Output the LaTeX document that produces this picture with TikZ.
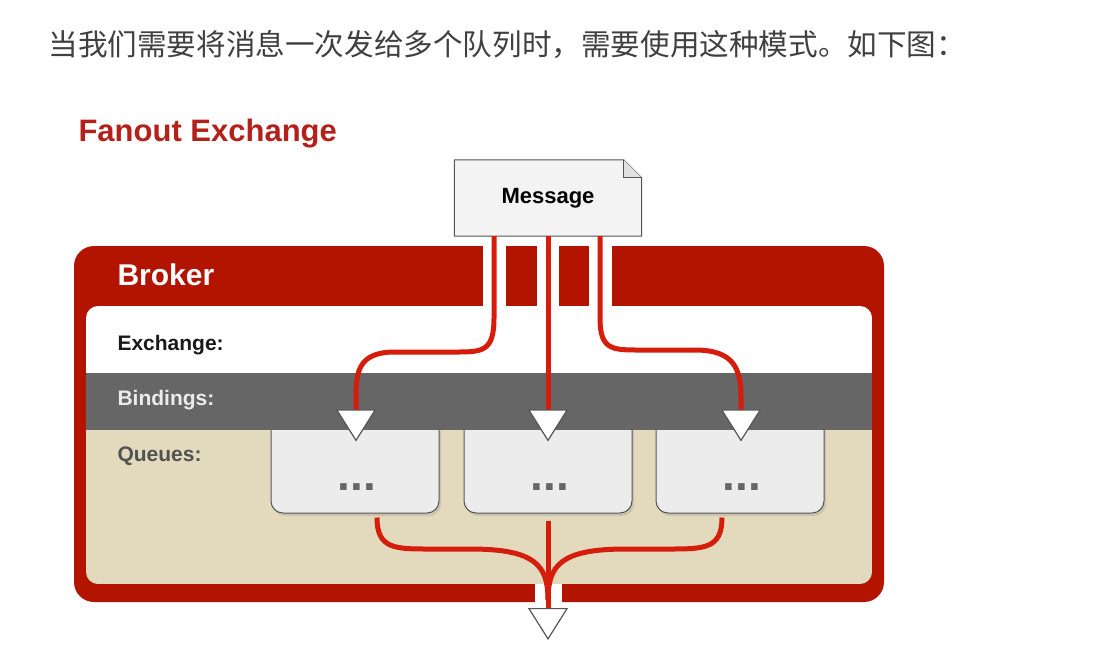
\documentclass[tikz,border=0pt]{standalone}
\usepackage{fontspec}
\setmainfont{Liberation Sans}
\newfontfamily\cjk{Noto Sans CJK SC}
\usetikzlibrary{arrows.meta,backgrounds,calc,shadows}

\definecolor{brokerred}{RGB}{178,20,0}
\definecolor{flowred}{RGB}{214,28,10}
\definecolor{titlered}{RGB}{180,32,26}
\definecolor{bandgray}{RGB}{102,102,102}
\definecolor{queuebeige}{RGB}{227,218,190}
\definecolor{boxgray}{RGB}{236,236,236}
\definecolor{msggray}{RGB}{243,243,243}
\definecolor{edgegray}{RGB}{85,85,85}

\tikzset{
  flow/.style={draw=flowred, line width=5pt},
  flowtip/.style={flow, -{Triangle[width=40pt,length=32pt,color=edgegray,fill=white,line width=1.2pt]}},
  rowlabel/.style={anchor=west, font=\bfseries\fontsize{21}{24}\selectfont},
  queuebox/.style={draw=edgegray, fill=boxgray, line width=1pt, rounded corners=12pt,
    minimum width=168pt, minimum height=95pt,
    drop shadow={shadow xshift=2pt, shadow yshift=-3pt, opacity=.25}},
  dots/.style={anchor=base, text=bandgray, font=\bfseries\fontsize{46}{48}\selectfont}
}

\begin{document}
\begin{tikzpicture}[x=1pt,y=-1pt]
\useasboundingbox (0,0) rectangle (1105,670);

\node[anchor=west, text=black!75] (intro) at (45,44) {\cjk\fontsize{29.6}{32}\selectfont 当我们需要将消息一次发给多个队列时，需要使用这种模式。如下图：};
\node[anchor=west, text=titlered, font=\bfseries\fontsize{31}{35}\selectfont] (title) at (75,134) {Fanout Exchange};

\node[minimum width=187pt, minimum height=76pt, font=\bfseries\fontsize{22}{25}\selectfont] (msg) at (548,198) {Message};
\begin{scope}[on background layer]
  \draw[edgegray, fill=msggray, line width=1pt] (msg.south west) -- (msg.north west) -- ([xshift=-18pt]msg.north east) -- ([yshift=-18pt]msg.north east) -- (msg.south east) -- cycle;
  \draw[edgegray, fill=black!12, line width=.8pt] ([xshift=-18pt]msg.north east) -- ([xshift=-18pt,yshift=-18pt]msg.north east) -- ([yshift=-18pt]msg.north east);
\end{scope}

\node[fill=brokerred, rounded corners=20pt, minimum width=810pt, minimum height=356pt] (broker) at (479,424) {};
\node[anchor=west, text=white, font=\bfseries\fontsize{30}{34}\selectfont] (brokerlabel) at (114,275) {Broker};
\fill[white] (483,246) rectangle (506,307);
\fill[white] (537,246) rectangle (559,307);
\fill[white] (589,246) rectangle (612,307);
\fill[white] (535,582) rectangle (562,603);

\begin{scope}
  \clip[rounded corners=12pt] (86,306) rectangle (872,584);
  \fill[white] (86,306) rectangle (872,373);
  \fill[queuebeige] (86,373) rectangle (872,584);
\end{scope}

\node[queuebox] (q1) at (355,465.5) {};
\node[queuebox] (q2) at (548,465.5) {};
\node[queuebox] (q3) at (740,465.5) {};
\node[dots] (d1) at ($(q1.south)+(2,-23)$) {...};
\node[dots] (d2) at ($(q2.south)+(2,-23)$) {...};
\node[dots] (d3) at ($(q3.south)+(2,-23)$) {...};

\fill[bandgray] (86,373) rectangle (872,430);

\node[rowlabel, text=black!90] (exlabel) at (114,345) {Exchange:};
\node[rowlabel, text=black!8] (bindlabel) at (114,400) {Bindings:};
\node[rowlabel, text=black!68] (queuelabel) at (114,456) {Queues:};

\draw[flowtip] ([xshift=-54pt]msg.south) -- (494,318) .. controls (494,352) and (482,352) .. (455,352) -- (395,352) .. controls (358,352) and (356,372) .. (356,398) -- ($(q1.north)+(1,24)$);
\draw[flowtip] (msg.south) -- ($(q2.north)+(0,24)$);
\draw[flowtip] ([xshift=52pt]msg.south) -- (600,318) .. controls (600,350) and (612,350) .. (640,350) -- (695,350) .. controls (735,350) and (741,370) .. (741,398) -- ($(q3.north)+(1,24)$);

\coordinate (join) at (548,600);
\coordinate (out) at (548,640);
\draw[flow] ($(q1.south)+(22,4)$) .. controls (377,549) and (395,549) .. (430,549) -- (470,549) .. controls (535,549) and (548,565) .. (join);
\draw[flow] ($(q3.south)+(-18,4)$) .. controls (722,549) and (704,549) .. (668,549) -- (626,549) .. controls (561,549) and (548,565) .. (join);
\draw[flowtip] ($(q2.south)+(0,7)$) -- (out);

\end{tikzpicture}
\end{document}
